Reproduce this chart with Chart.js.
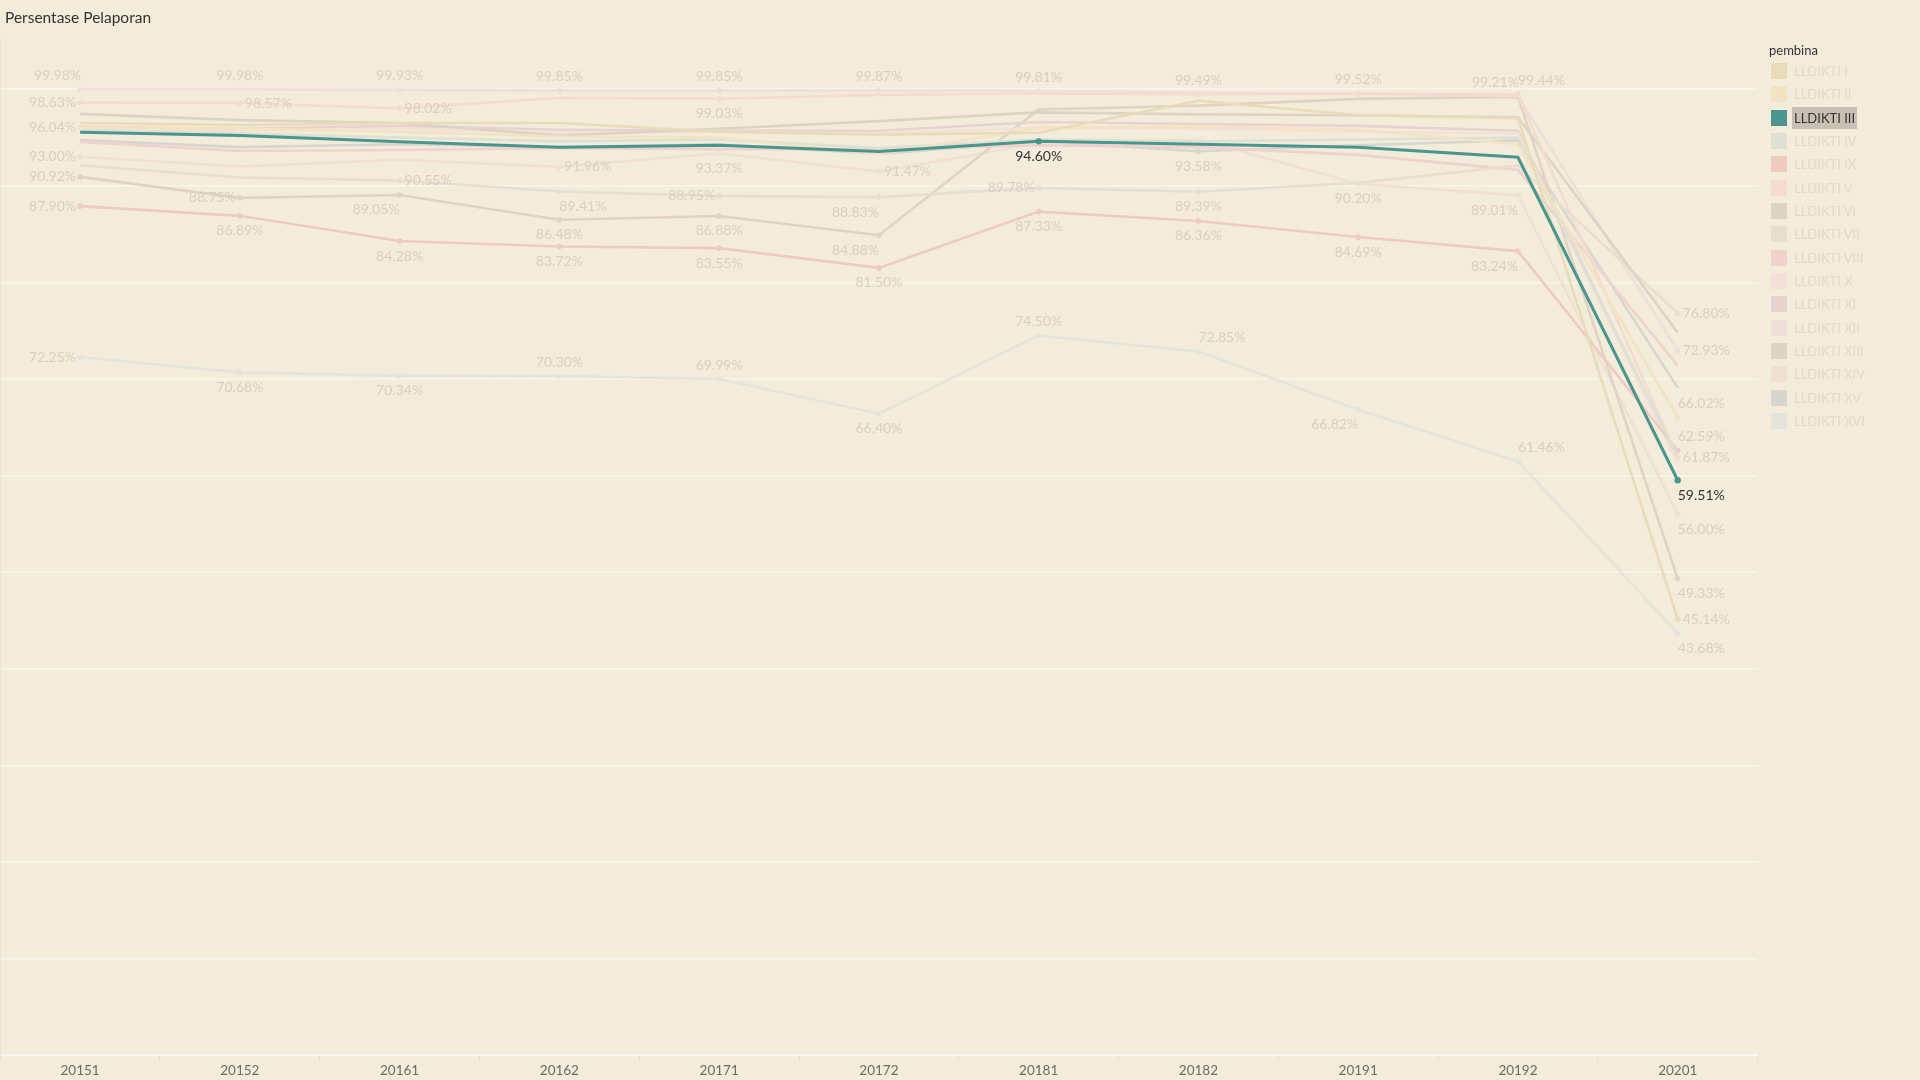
<!DOCTYPE html>
<html>
<head>
<meta charset="utf-8">
<script src="https://cdn.jsdelivr.net/npm/chart.js@4.4.1/dist/chart.umd.min.js"></script>
<style>
    html, body { margin: 0; padding: 0; background: #f3ecdb; }
    #wrap { position: relative; width: 1920px; height: 1080px; background: #f3ecdb; overflow: hidden; font-family: Lato, "Open Sans", sans-serif; }
    #chart { position: absolute; left: -3px; top: 0; }
    #edge { position: absolute; left: 0; top: 38px; width: 1px; height: 1017px; background: #ebe4d6; }
    #title { position: absolute; left: 5px; top: 8px; font-size: 15.5px; color: #333; }
    #legend { position: absolute; left: 1769px; top: 0; width: 150px; height: 460px; }
    #legend .head { position: absolute; left: 0; top: 42px; font-size: 13px; color: #333; }
    #legend .item { position: absolute; left: 2px; height: 22px; font-size: 13px; line-height: 22px; white-space: nowrap; }
    #legend .sw { position: absolute; left: 0; top: 3px; width: 16px; height: 16px; }
    #legend .txt { position: absolute; left: 21px; top: 0; padding: 0 2px; color: #e2d9cb; }
    #legend .txt.on { background: #c9c0b4; color: #333; }
</style>
</head>
<body>
<div id="wrap">
    <canvas id="chart" width="1923" height="1080"></canvas>
    <div id="edge"></div>
    <div id="title">Persentase Pelaporan</div>
    <div id="legend"></div>
</div>
<script>
// Periods (x axis)
const periods = ['20151', '20152', '20161', '20162', '20171', '20172', '20181', '20182', '20191', '20192', '20201'];

// Reporting percentage per LLDIKTI region
const lldikti1 = [96.50, 96.30, 96.50, 96.50, 95.60, 95.30, 95.50, 98.80, 97.30, 97.00, 45.14];
const lldikti2 = [96.04, 95.90, 95.60, 95.10, 95.00, 93.30, 96.00, 96.10, 95.80, 94.30, 66.02];
const lldikti3 = [95.55, 95.20, 94.55, 94.00, 94.20, 93.55, 94.60, 94.30, 94.00, 92.95, 59.51];
const lldikti4 = [95.80, 95.40, 95.00, 94.60, 94.80, 93.90, 94.80, 94.60, 94.80, 95.00, 62.00];
const lldikti9 = [87.90, 86.89, 84.28, 83.72, 83.55, 81.50, 87.33, 86.36, 84.69, 83.24, 62.59];
const lldikti5 = [98.63, 98.57, 98.02, 99.10, 99.03, 99.40, 99.55, 99.49, 99.52, 99.44, 61.87];
const lldikti6 = [97.45, 96.80, 96.50, 95.20, 95.90, 96.70, 97.60, 97.40, 97.30, 97.10, 74.80];
const lldikti7 = [92.13, 90.86, 90.55, 89.41, 88.95, 88.83, 89.78, 89.39, 90.30, 92.10, 76.80];
const lldikti8 = [94.55, 93.60, 93.70, 93.90, 93.80, 93.80, 94.20, 94.00, 93.20, 91.65, 71.40];
const lldikti10 = [95.90, 95.70, 95.90, 95.50, 95.60, 95.40, 96.00, 95.90, 95.60, 95.40, 61.30];
const lldikti11 = [96.10, 95.90, 96.20, 95.80, 95.70, 95.70, 96.60, 96.40, 96.20, 95.70, 61.60];
const lldikti12 = [99.98, 99.98, 99.93, 99.85, 99.85, 99.87, 99.81, 99.65, 99.55, 99.30, 72.93];
const lldikti13 = [90.92, 88.75, 89.05, 86.48, 86.88, 84.88, 97.90, 98.30, 99.00, 99.21, 49.33];
const lldikti14 = [93.00, 92.00, 92.70, 91.96, 93.37, 91.47, 94.40, 94.80, 90.20, 89.01, 56.00];
const lldikti15 = [94.75, 94.00, 94.30, 94.00, 94.30, 93.30, 94.60, 93.58, 94.20, 94.70, 69.10];
const lldikti16 = [72.25, 70.68, 70.34, 70.30, 69.99, 66.40, 74.50, 72.85, 66.82, 61.46, 43.68];

// Legend order as in Tableau (alphabetical)
const seriesNames = ['LLDIKTI I', 'LLDIKTI II', 'LLDIKTI III', 'LLDIKTI IV', 'LLDIKTI IX', 'LLDIKTI V', 'LLDIKTI VI', 'LLDIKTI VII',
    'LLDIKTI VIII', 'LLDIKTI X', 'LLDIKTI XI', 'LLDIKTI XII', 'LLDIKTI XIII', 'LLDIKTI XIV', 'LLDIKTI XV', 'LLDIKTI XVI'];
const seriesValues = [lldikti1, lldikti2, lldikti3, lldikti4, lldikti9, lldikti5, lldikti6, lldikti7,
    lldikti8, lldikti10, lldikti11, lldikti12, lldikti13, lldikti14, lldikti15, lldikti16];
const highlighted = 'LLDIKTI III';

// Styling
const seriesColors = ['#e8dbb8', '#f2e3c3', '#4a958e', '#dde0d2', '#efcbbf', '#f4dbcf', '#ddd3c5', '#e7ded0',
    '#efd2cd', '#f3e1d9', '#e6d3cf', '#eedfd8', '#e0d3c3', '#f0e0d2', '#d6d6ce', '#e4e4da'];

// Which marks carry a label, and where the label sits (a=above, b=below, l=left, r=right, al/ar/bl/br corners)
const labelSpots = [
    ['LLDIKTI XII', 0, 'al'], ['LLDIKTI V', 0, 'l'], ['LLDIKTI II', 0, 'l'], ['LLDIKTI XIV', 0, 'l'],
    ['LLDIKTI XIII', 0, 'l'], ['LLDIKTI IX', 0, 'l'], ['LLDIKTI XVI', 0, 'l'],
    ['LLDIKTI XII', 1, 'a'], ['LLDIKTI V', 1, 'r'], ['LLDIKTI XIII', 1, 'l'], ['LLDIKTI IX', 1, 'b'], ['LLDIKTI XVI', 1, 'b'],
    ['LLDIKTI XII', 2, 'a'], ['LLDIKTI V', 2, 'r'], ['LLDIKTI VII', 2, 'r'], ['LLDIKTI XIII', 2, 'bl'],
    ['LLDIKTI IX', 2, 'b'], ['LLDIKTI XVI', 2, 'b'],
    ['LLDIKTI XII', 3, 'a'], ['LLDIKTI XIV', 3, 'r'], ['LLDIKTI VII', 3, 'br'], ['LLDIKTI XIII', 3, 'b'],
    ['LLDIKTI IX', 3, 'b'], ['LLDIKTI XVI', 3, 'a'],
    ['LLDIKTI XII', 4, 'a'], ['LLDIKTI V', 4, 'b'], ['LLDIKTI XIV', 4, 'b'], ['LLDIKTI VII', 4, 'l'],
    ['LLDIKTI XIII', 4, 'b'], ['LLDIKTI IX', 4, 'b'], ['LLDIKTI XVI', 4, 'a'],
    ['LLDIKTI XII', 5, 'a'], ['LLDIKTI XIV', 5, 'r'], ['LLDIKTI VII', 5, 'bl'], ['LLDIKTI XIII', 5, 'bl'],
    ['LLDIKTI IX', 5, 'b'], ['LLDIKTI XVI', 5, 'b'],
    ['LLDIKTI XII', 6, 'a'], ['LLDIKTI III', 6, 'b'], ['LLDIKTI VII', 6, 'l'], ['LLDIKTI IX', 6, 'b'], ['LLDIKTI XVI', 6, 'a'],
    ['LLDIKTI V', 7, 'a'], ['LLDIKTI XV', 7, 'b'], ['LLDIKTI VII', 7, 'b'], ['LLDIKTI IX', 7, 'b'], ['LLDIKTI XVI', 7, 'ar'],
    ['LLDIKTI V', 8, 'a'], ['LLDIKTI XIV', 8, 'b'], ['LLDIKTI IX', 8, 'b'], ['LLDIKTI XVI', 8, 'bl'],
    ['LLDIKTI XIII', 9, 'al'], ['LLDIKTI V', 9, 'ar'], ['LLDIKTI XIV', 9, 'bl'], ['LLDIKTI IX', 9, 'bl'], ['LLDIKTI XVI', 9, 'ar'],
    ['LLDIKTI VII', 10, 'r'], ['LLDIKTI XII', 10, 'r'], ['LLDIKTI II', 10, 'ar'], ['LLDIKTI IX', 10, 'ar'],
    ['LLDIKTI V', 10, 'r'], ['LLDIKTI III', 10, 'br'], ['LLDIKTI XIV', 10, 'br'], ['LLDIKTI XIII', 10, 'br'],
    ['LLDIKTI I', 10, 'r'], ['LLDIKTI XVI', 10, 'br']
];

function isLabeled(name, idx) {
    return labelSpots.some(s => s[0] === name && s[1] === idx);
}

// Point labels drawn after the lines
const pointLabels = {
    id: 'pointLabels',
    afterDatasetsDraw(chart) {
        const ctx = chart.ctx;
        ctx.save();
        ctx.font = '14px Lato, "Open Sans", sans-serif';
        labelSpots.forEach(([name, idx, pos]) => {
            const di = seriesNames.indexOf(name);
            const pt = chart.getDatasetMeta(di).data[idx];
            const text = seriesValues[di][idx].toFixed(2) + '%';
            let x = pt.x, y = pt.y, align = 'center';
            if (pos === 'a') y -= 14;
            else if (pos === 'b') y += 15;
            else if (pos === 'l') { x -= 4; align = 'right'; }
            else if (pos === 'r') { x += 5; align = 'left'; }
            else if (pos === 'al') { x += 1; y -= 14; align = 'right'; }
            else if (pos === 'ar') { y -= 14; align = 'left'; }
            else if (pos === 'bl') { y += 15; align = 'right'; }
            else if (pos === 'br') { y += 15; align = 'left'; }
            ctx.textAlign = align;
            ctx.textBaseline = 'middle';
            ctx.fillStyle = name === highlighted ? '#333333' : '#d9cfc0';
            ctx.fillText(text, x, y);
        });
        ctx.restore();
    }
};

// Build datasets, highlighted series on top
const datasets = seriesNames.map((name, i) => {
    const on = name === highlighted;
    return {
        label: name,
        data: seriesValues[i],
        borderColor: seriesColors[i],
        backgroundColor: seriesColors[i],
        borderWidth: on ? 3 : 2.6,
        tension: 0,
        order: on ? 0 : 1,
        pointRadius: ctx => isLabeled(name, ctx.dataIndex) ? (on ? 3.2 : 2.8) : 0,
        pointBorderWidth: 0,
        pointHoverRadius: 0
    };
});

// Custom legend
function buildLegend() {
    const box = document.getElementById('legend');
    const head = document.createElement('div');
    head.className = 'head';
    head.textContent = 'pembina';
    box.appendChild(head);
    seriesNames.forEach((name, i) => {
        const item = document.createElement('div');
        item.className = 'item';
        item.style.top = (60 + i * 23.33) + 'px';
        const sw = document.createElement('div');
        sw.className = 'sw';
        sw.style.background = seriesColors[i];
        const txt = document.createElement('div');
        txt.className = 'txt' + (name === highlighted ? ' on' : '');
        txt.textContent = name;
        item.appendChild(sw);
        item.appendChild(txt);
        box.appendChild(item);
    });
}

document.addEventListener('DOMContentLoaded', () => {
    buildLegend();
    new Chart(document.getElementById('chart'), {
        type: 'line',
        data: { labels: periods, datasets },
        plugins: [pointLabels],
        options: {
            responsive: false,
            animation: false,
            layout: { padding: { top: 39, right: 162.4, left: 0, bottom: 0 } },
            plugins: {
                legend: { display: false },
                tooltip: { enabled: false },
                title: { display: false }
            },
            scales: {
                x: {
                    type: 'category',
                    offset: true,
                    grid: { display: true, drawOnChartArea: false, offset: true, tickLength: 6, color: '#e6dfd1' },
                    border: { display: true, color: '#faf7f0', width: 2 },
                    ticks: { color: '#6e6a64', font: { family: 'Lato', size: 13.5 }, padding: 2, maxRotation: 0 },
                    afterFit: s => { s.height = 25; }
                },
                y: {
                    min: 0,
                    max: 105.2,
                    ticks: { display: false, stepSize: 10, includeBounds: false },
                    grid: { color: '#f9f5ec', lineWidth: 1.5, drawTicks: false },
                    border: { display: true, color: '#ebe4d6', width: 1 },
                    afterFit: s => { s.width = 0; }
                }
            }
        }
    });
});
</script>
</body>
</html>
